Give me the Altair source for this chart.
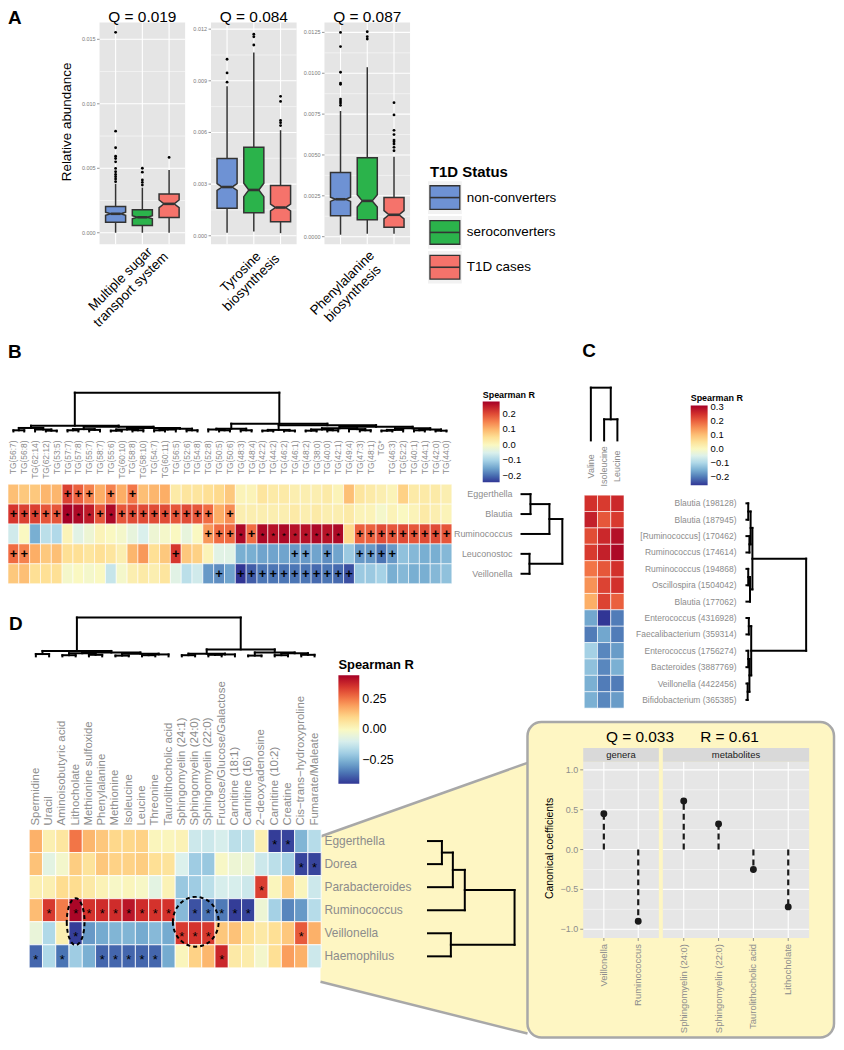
import altair as alt
import pandas as pd

FONT = "Liberation Sans"
LBL = "#8c8c8c"
TICK = "#7a7a7a"
YELLOW = "#fef6c3"
EDGE = "#a8a8a8"

# ======================= DATA =======================
# ---- Panel A: notched boxplots ----
A_pathways = ["Multiple sugar\ntransport system", "Tyrosine\nbiosynthesis", "Phenylalanine\nbiosynthesis"]
A_qvalues = ["Q = 0.019", "Q = 0.084", "Q = 0.087"]
A_status = ["non-converters", "seroconverters", "T1D cases"]
A_colors = ["#6e92d4", "#2bb34b", "#f5736b"]
# [lower whisker, Q1, median, Q3, upper whisker] per status
A_sugar_box = [[0.0, 0.00082, 0.00147, 0.00203, 0.0038],
               [0.0, 0.00056, 0.00120, 0.00178, 0.0035],
               [0.0, 0.00118, 0.00224, 0.00301, 0.00486]]
A_sugar_notch = [0.00012, 0.00012, 0.0003]
A_sugar_out = [[0.00396, 0.00417, 0.00435, 0.00452, 0.00473, 0.00499, 0.0055, 0.00576, 0.00594, 0.00659, 0.00788, 0.01554],
               [0.0037, 0.0039, 0.0041, 0.0047, 0.0050],
               [0.00584]]
A_tyr_box = [[0.00017, 0.0016, 0.00283, 0.00449, 0.00869],
             [0.00025, 0.00133, 0.00266, 0.00514, 0.01065],
             [0.00015, 0.00081, 0.00164, 0.00292, 0.00613]]
A_tyr_notch = [0.0002, 0.00039, 0.0002]
A_tyr_out = [[0.00892, 0.00946, 0.01025],
             [0.01108, 0.01156, 0.01171],
             [0.0064, 0.00657, 0.0067, 0.0078, 0.0081]]
A_phe_box = [[0.00012, 0.00128, 0.00229, 0.00393, 0.00769],
             [0.00018, 0.00104, 0.00219, 0.00483, 0.01037],
             [0.00018, 0.00058, 0.00134, 0.00239, 0.00489]]
A_phe_notch = [0.00013, 0.00037, 0.00025]
A_phe_out = [[0.00804, 0.00818, 0.0083, 0.00842, 0.00932, 0.0094, 0.01006, 0.01163, 0.0125],
             [0.01209, 0.01224, 0.01254],
             [0.00526, 0.00547, 0.00567, 0.00581, 0.00591, 0.00625, 0.00651, 0.00745, 0.0082]]
A_ticks = [[0.0, 0.005, 0.010, 0.015],
           [0.0, 0.003, 0.006, 0.009, 0.012],
           [0.0, 0.0025, 0.005, 0.0075, 0.01, 0.0125]]
A_ticklabels = [["0.000", "0.005", "0.010", "0.015"],
                ["0.000", "0.003", "0.006", "0.009", "0.012"],
                ["0.0000", "0.0025", "0.0050", "0.0075", "0.0100", "0.0125"]]
A_ydomains = [[-0.0009, 0.01631], [-0.0005, 0.01239], [-0.00047, 0.01311]]

# ---- Panel B: genera x triglycerides ----
B_cols = ["TG(56:7)", "TG(56:8)", "TG(62:14)", "TG(62:12)", "TG(53:5)", "TG(57:7)", "TG(57:8)", "TG(55:7)",
          "TG(58:7)", "TG(55:6)", "TG(60:10)", "TG(58:8)", "TG(58:10)", "TG(54:7)", "TG(60:11)", "TG(56:5)",
          "TG(52:6)", "TG(54:8)", "TG(52:8)", "TG(50:5)", "TG(50:6)", "TG(48:3)", "TG(48:4)", "TG(42:2)",
          "TG(44:2)", "TG(46:2)", "TG(46:1)", "TG(48:2)", "TG(38:0)", "TG(40:0)", "TG(42:1)", "TG(49:4)",
          "TG(47:3)", "TG(48:1)", "TG*", "TG(46:3)", "TG(52:2)", "TG(40:1)", "TG(44:1)", "TG(42:0)", "TG(44:0)"]
B_rows = ["Eggerthella", "Blautia", "Ruminococcus", "Leuconostoc", "Veillonella"]
B_eggerthella = [0.09, 0.08, 0.08, 0.10, 0.10, 0.21, 0.18, 0.15, 0.11, 0.15, 0.11, 0.16, 0.09, 0.10, 0.11, 0.03, 0.04, 0.04,
                 0.05, 0.06, 0.08, 0.01, 0.01, 0.04, 0.03, 0.03, 0.02, 0.02, 0.02, 0.03, 0.01, 0.09, 0.04, 0.03, 0.02,
                 0.01, 0.07, 0.03, 0.03, 0.03, 0.02]
B_blautia = [0.22, 0.21, 0.21, 0.19, 0.19, 0.28, 0.27, 0.25, 0.19, 0.27, 0.19, 0.20, 0.20, 0.20, 0.20, 0.19, 0.20, 0.19,
             0.17, 0.11, 0.14, 0.02, 0.02, 0.02, 0.02, 0.02, 0.03, 0.02, 0.03, 0.02, 0.02, 0.03, 0.01, 0.01, -0.01,
             0.01, 0.0, 0.01, 0.03, 0.02, 0.01]
B_ruminococcus = [-0.06, 0.0, -0.14, -0.08, -0.09, 0.01, -0.04, -0.02, 0.01, 0.0, -0.01, -0.03, -0.05, -0.02, -0.01, 0.0,
                  -0.03, 0.0, 0.13, 0.17, 0.17, 0.27, 0.17, 0.27, 0.26, 0.27, 0.26, 0.26, 0.27, 0.26, 0.27, 0.06, 0.18,
                  0.18, 0.20, 0.19, 0.20, 0.19, 0.20, 0.20, 0.19]
B_leuconostoc = [0.17, 0.15, 0.11, 0.08, 0.09, 0.05, 0.05, 0.04, 0.05, 0.04, 0.02, 0.10, 0.13, 0.05, 0.08, 0.22, 0.08,
                 0.07, 0.01, -0.04, -0.04, -0.14, -0.14, -0.15, -0.15, -0.15, -0.16, -0.16, -0.15, -0.17, -0.15, -0.11,
                 -0.16, -0.16, -0.19, -0.16, -0.12, -0.13, -0.14, -0.14, -0.13]
B_veillonella = [0.08, 0.09, 0.05, 0.05, 0.05, -0.01, 0.0, -0.01, 0.0, -0.07, -0.01, 0.02, 0.03, 0.02, 0.04, -0.04, -0.08,
                 -0.06, -0.16, -0.17, -0.15, -0.24, -0.21, -0.19, -0.19, -0.19, -0.19, -0.19, -0.20, -0.19, -0.20, -0.22,
                 -0.11, -0.11, -0.10, -0.14, -0.13, -0.14, -0.14, -0.13, -0.12]
B_plus = [[5, 6, 7, 9, 11],
          [0, 1, 2, 3, 4, 8, 10, 11, 12, 13, 14, 15, 16, 17, 18, 20],
          [18, 19, 20, 22, 32, 33, 34, 35, 36, 37, 38, 39, 40],
          [0, 1, 15, 26, 27, 29, 32, 33, 34, 35],
          [19, 21, 22, 23, 24, 25, 26, 27, 28, 29, 30, 31]]
B_star = [[], [5, 6, 7, 9], [21, 23, 24, 25, 26, 27, 28, 29, 30], [], []]
B_legend_ticks = [-0.2, -0.1, 0.0, 0.1, 0.2]
# dendrograms: (left, right, merge height); ints are leaf indices
B_coltree = ((((0, 1, 0.03), (2, (3, 4, 0.02), 0.05), 0.09),
              (((5, 6, 0.03), (7, 8, 0.04), 0.06),
               (((9, 10, 0.02), (11, 12, 0.03), 0.05), (((13, 14, 0.03), 15, 0.05), (16, 17, 0.03), 0.07), 0.09),
               0.12), 0.15),
             (((18, (19, 20, 0.03), 0.05), (21, 22, 0.03), 0.07),
              (((23, 24, 0.02), (25, 26, 0.02), 0.04),
               ((((27, 28, 0.02), (29, 30, 0.03), 0.05), (31, (32, 33, 0.03), 0.06), 0.08),
                (((34, 35, 0.02), 36, 0.04), ((37, 38, 0.03), (39, 40, 0.02), 0.05), 0.08), 0.12), 0.16), 0.20),
             1.0)
B_rowtree = (((0, 1, 9), 2, 28), (3, 4, 8), 41)

# ---- Panel C: OTUs x branched-chain amino acids ----
C_cols = ["Valine", "Isoleucine", "Leucine"]
C_rows = ["Blautia (198128)", "Blautia (187945)", "[Ruminococcus] (170462)", "Ruminococcus (174614)",
          "Ruminococcus (194868)", "Oscillospira (1504042)", "Blautia (177062)", "Enterococcus (4316928)",
          "Faecalibacterium (359314)", "Enterococcus (1756274)", "Bacteroides (3887769)", "Veillonella (4422456)",
          "Bifidobacterium (365385)"]
C_valine = [0.25, 0.27, 0.22, 0.24, 0.18, 0.15, 0.12, -0.16, -0.20, -0.11, -0.13, -0.15, -0.15]
C_isoleucine = [0.24, 0.21, 0.26, 0.27, 0.21, 0.23, 0.23, -0.26, -0.16, -0.19, -0.19, -0.20, -0.19]
C_leucine = [0.26, 0.24, 0.29, 0.30, 0.25, 0.25, 0.20, -0.20, -0.20, -0.17, -0.15, -0.20, -0.17]
C_legend_ticks = [-0.2, -0.1, 0.0, 0.1, 0.2, 0.3]
C_coltree = (0, (1, 2, 0.4), 1.0)
C_rowtree = ((((0, 1, 0.03), (2, 3, 0.05), 0.07), ((4, 5, 0.03), 6, 0.06), 0.10),
             ((7, 8, 0.04), ((9, 10, 0.03), (11, 12, 0.02), 0.05), 0.08), 1.0)

# ---- Panel D: genera x metabolites ----
D_cols = ["Spermidine", "Uracil", "Aminoisobutyric acid", "Lithocholate", "Methionine sulfoxide", "Phenylalanine",
          "Methionine", "Isoleucine", "Leucine", "Threonine", "Taurolithocholic acid", "Sphingomyelin (24:1)",
          "Sphingomyelin (24:0)", "Sphingomyelin (22:0)", "Fructose/Glucose/Galactose", "Carnitine (18:1)",
          "Carnitine (16)", "2\u2212deoxyadenosine", "Carnitine (10:2)", "Creatine",
          "Cis\u2212trans\u2212hydroxyproline", "Fumarate/Maleate"]
D_rows = ["Eggerthella", "Dorea", "Parabacteroides", "Ruminococcus", "Veillonella", "Haemophilus"]
D_eggerthella = [0.17, 0.03, 0.06, 0.26, 0.16, 0.13, 0.10, 0.10, 0.11, 0.01, 0.01, 0.02, -0.12, -0.12, -0.10, -0.15,
                 -0.14, 0.03, -0.44, -0.43, -0.25, -0.16]
D_dorea = [0.14, -0.07, -0.02, 0.12, 0.07, 0.13, 0.11, 0.11, 0.12, 0.08, 0.07, -0.09, -0.20, -0.21, -0.01, -0.04,
           -0.04, -0.12, -0.15, -0.19, -0.43, -0.43]
D_parabacteroides = [0.03, 0.03, 0.09, 0.09, 0.05, 0.02, -0.01, 0.01, -0.01, -0.07, 0.02, -0.21, -0.20, -0.15, -0.10,
                     -0.10, -0.12, 0.34, 0.01, 0.12, 0.01, -0.12]
D_ruminococcus = [0.15, 0.35, 0.25, 0.44, 0.36, 0.37, 0.37, 0.41, 0.37, 0.36, 0.36, -0.24, -0.41, -0.36, -0.35, -0.44,
                  -0.43, -0.04, -0.19, -0.33, -0.30, -0.16]
D_veillonella = [-0.05, -0.17, 0.03, -0.44, -0.30, -0.27, -0.25, -0.25, -0.27, -0.24, -0.27, 0.35, 0.36, 0.35, 0.13,
                 0.14, 0.08, 0.05, 0.08, 0.13, 0.30, 0.17]
D_haemophilus = [-0.38, -0.17, -0.36, -0.20, -0.26, -0.38, -0.38, -0.38, -0.38, -0.38, -0.27, 0.01, 0.11, 0.16, 0.38,
                 0.05, 0.04, -0.02, 0.08, 0.20, 0.17, -0.12]
D_star = [[18, 19], [20, 21], [17], [1, 3, 4, 5, 6, 7, 8, 9, 10, 12, 13, 14, 15, 16], [3, 11, 12, 13, 20],
          [0, 2, 5, 6, 7, 8, 9, 14]]
D_legend_ticks = [-0.25, 0.0, 0.25]
D_coltree = (((0, 1, 0.06), (((2, 3, 0.03), (4, 5, 0.04), 0.08), ((6, 7, 0.02), ((8, 9, 0.03), 10, 0.05), 0.07), 0.10), 0.14),
             (((11, 12, 0.03), ((13, 14, 0.04), 15, 0.05), 0.07), ((16, 17, 0.02), ((18, 19, 0.03), (20, 21, 0.04), 0.08), 0.10), 0.18),
             1.0)
D_rowtree = ((((0, 1, 14), 2, 25), 3, 37), (4, 5, 23), 87)
# highlighted pairs (column centre, row boundary) circled with dashed ellipses
D_circled = [(3.5, 2.0), (12.55, 2.0)]

# ---- Inset: canonical correlation ----
I_title_q = "Q = 0.033"
I_title_r = "R = 0.61"
I_genera = ["Veillonella", "Ruminococcus"]
I_genera_coef = [0.45, -0.90]
I_metab = ["Sphingomyelin (24:0)", "Sphingomyelin (22:0)", "Taurolithocholic acid", "Lithocholate"]
I_metab_coef = [0.61, 0.32, -0.25, -0.72]
I_ticks = [-1.0, -0.5, 0.0, 0.5, 1.0]
I_ticklabels = ["\u22121.0", "\u22120.5", "0.0", "0.5", "1.0"]

# ======================= LAYOUT (canvas pixels) =======================
A_panel_x = [[92, 178], [204, 290], [318, 404]]
A_panel_y = [235, 12]
A_xlabel_xy = [(113, 270), (234, 263), (336, 274)]
B_XR, B_YR = (0, 446), (576, 476)
C_XR, C_YR = (579, 619), (701, 487)
D_XR, D_YR = (21.3, 314.7), (962, 823)


def sc(dom, rng):
    return alt.Scale(domain=list(dom), range=list(rng), nice=False, zero=False)


def qx(f, dom, rng):
    return alt.X(f, type="quantitative", scale=sc(dom, rng), axis=None)


def qy(f, dom, rng):
    return alt.Y(f, type="quantitative", scale=sc(dom, rng), axis=None)


def raw(ch, f):
    return ch(f, type="quantitative", scale=None, axis=None)


def dendro(tree, leafpos):
    segs = []

    def rec(node):
        if isinstance(node, int):
            return leafpos(node), 0.0
        a, b, h = node
        pa, ha = rec(a)
        pb, hb = rec(b)
        segs.append((pa, pb, h, h))
        segs.append((pa, pa, ha, h))
        segs.append((pb, pb, hb, h))
        return (pa + pb) / 2.0, h

    rec(tree)
    return pd.DataFrame(segs, columns=["p1", "p2", "h1", "h2"])


def label(text, x, y, size=19, **kw):
    return alt.Chart(pd.DataFrame({"t": [text]})).mark_text(
        font=FONT, fontSize=size, fontWeight="bold", align="left", baseline="alphabetic", **kw
    ).encode(x=alt.value(x), y=alt.value(y), text="t:N")


layers = []

# ======================= PANEL A =======================
A_box = [A_sugar_box, A_tyr_box, A_phe_box]
A_notch = [A_sugar_notch, A_tyr_notch, A_phe_notch]
A_out = [A_sugar_out, A_tyr_out, A_phe_out]
HW = 0.375
layers.append(label("A", 0, 14))
layers.append(alt.Chart(pd.DataFrame({"t": ["Relative abundance"]})).mark_text(
    font=FONT, fontSize=13.5, angle=270, align="center", baseline="middle").encode(
    x=alt.value(59), y=alt.value(112), text="t:N"))
for p in range(3):
    XD, XR, YD, YR = (0.4, 3.6), A_panel_x[p], A_ydomains[p], A_panel_y

    def X(f):
        return qx(f, XD, XR)

    def Y(f):
        return qy(f, YD, YR)

    ticks = A_ticks[p]
    minors = [(a + b) / 2 for a, b in zip(ticks[:-1], ticks[1:])]
    layers.append(alt.Chart(pd.DataFrame({"x1": [XD[0]], "x2": [XD[1]], "y1": [YD[0]], "y2": [YD[1]]}))
                  .mark_rect(fill="#e5e5e5").encode(x=X("x1"), x2="x2", y=Y("y1"), y2="y2"))
    layers.append(alt.Chart(pd.DataFrame({"v": minors, "x1": XD[0], "x2": XD[1]}))
                  .mark_rule(color="white", strokeWidth=0.5).encode(x=X("x1"), x2="x2", y=Y("v")))
    layers.append(alt.Chart(pd.DataFrame({"v": ticks, "x1": XD[0], "x2": XD[1]}))
                  .mark_rule(color="white", strokeWidth=1.1).encode(x=X("x1"), x2="x2", y=Y("v")))
    layers.append(alt.Chart(pd.DataFrame({"pos": [1, 2, 3], "y1": YD[0], "y2": YD[1]}))
                  .mark_rule(color="white", strokeWidth=1.1).encode(x=X("pos"), y=Y("y1"), y2="y2"))
    poly, wh, med, out = [], [], [], []
    for i in range(3):
        lw, q1, md, q3, uw = A_box[p][i]
        n = A_notch[p][i]
        pos = i + 1
        for yv, f in [(q1, 1), (md - n, 1), (md, 0.5), (md + n, 1), (q3, 1)]:
            poly.append(dict(status=A_status[i], y=yv, xl=pos - HW * f, xr=pos + HW * f, fill=A_colors[i]))
        wh.append(dict(pos=pos, y1=q3, y2=uw))
        wh.append(dict(pos=pos, y1=q1, y2=lw))
        med.append(dict(x1=pos - HW / 2, x2=pos + HW / 2, y=md))
        for v in A_out[p][i]:
            out.append(dict(pos=pos, v=v))
    layers.append(alt.Chart(pd.DataFrame(wh)).mark_rule(color="#333333", strokeWidth=1.5)
                  .encode(x=X("pos"), y=Y("y1"), y2="y2"))
    layers.append(alt.Chart(pd.DataFrame(poly)).mark_area(orient="horizontal", stroke="#333333", strokeWidth=1.5,
                                                          opacity=1)
                  .encode(y=Y("y"), x=X("xl"), x2="xr", color=alt.Color("fill:N", scale=None), detail="status:N"))
    layers.append(alt.Chart(pd.DataFrame(med)).mark_rule(color="#333333", strokeWidth=2.6)
                  .encode(x=X("x1"), x2="x2", y=Y("y")))
    layers.append(alt.Chart(pd.DataFrame(out)).mark_circle(size=8, color="black", opacity=1)
                  .encode(x=X("pos"), y=Y("v")))
    layers.append(alt.Chart(pd.DataFrame({"v": ticks, "lab": A_ticklabels[p]}))
                  .mark_text(font=FONT, fontSize=5.5, align="right", baseline="middle", color=TICK)
                  .encode(x=alt.value(XR[0] - 4), y=Y("v"), text="lab:N"))
    layers.append(alt.Chart(pd.DataFrame({"v": ticks}))
                  .mark_rule(color=TICK, strokeWidth=0.8)
                  .encode(x=alt.value(XR[0] - 2.5), x2=alt.value(XR[0]), y=Y("v")))
    layers.append(alt.Chart(pd.DataFrame({"pos": [2.0], "t": [A_qvalues[p]]}))
                  .mark_text(font=FONT, fontSize=15.5, baseline="alphabetic")
                  .encode(x=X("pos"), y=alt.value(12), text="t:N"))
    layers.append(alt.Chart(pd.DataFrame({"t": [A_pathways[p]]}))
                  .mark_text(font=FONT, fontSize=13.5, angle=315, align="center", baseline="middle",
                             lineBreak="\n", lineHeight=15)
                  .encode(x=alt.value(A_xlabel_xy[p][0]), y=alt.value(A_xlabel_xy[p][1]), text="t:N"))

# legend of panel A
LG_YD, LG_YR = (0, 2), (188, 258)
lg = pd.DataFrame({"i": [0, 1, 2], "status": A_status, "fill": A_colors})
lg["b0"] = lg["i"] - 0.47
lg["b1"] = lg["i"] + 0.47
lg["k0"] = lg["i"] - 0.34
lg["k1"] = lg["i"] + 0.34
layers.append(alt.Chart(pd.DataFrame({"t": ["T1D Status"]})).mark_text(
    font=FONT, fontSize=15, fontWeight="bold", align="left", baseline="middle").encode(
    x=alt.value(424), y=alt.value(162), text="t:N"))
layers.append(alt.Chart(lg).mark_rect(fill="#f2f2f2").encode(
    x=alt.value(422), x2=alt.value(456), y=qy("b0", LG_YD, LG_YR), y2="b1"))
layers.append(alt.Chart(lg).mark_rect(stroke="#333333", strokeWidth=1.3).encode(
    x=alt.value(424), x2=alt.value(454), y=qy("k0", LG_YD, LG_YR), y2="k1",
    color=alt.Color("fill:N", scale=None)))
layers.append(alt.Chart(lg).mark_rule(color="#333333", strokeWidth=1.6).encode(
    x=alt.value(424), x2=alt.value(454), y=qy("i", LG_YD, LG_YR)))
layers.append(alt.Chart(lg).mark_text(font=FONT, fontSize=13.5, align="left", baseline="middle").encode(
    x=alt.value(461), y=qy("i", LG_YD, LG_YR), text="status:N"))


# ======================= HEATMAP helpers =======================
def heatmap(rows, cols, mats, XR, YR, cdom, legend, stroke_w=0.6):
    nr, nc = len(rows), len(cols)
    recs = []
    for r in range(nr):
        for c in range(nc):
            recs.append(dict(row=rows[r], col=cols[c], R=mats[r][c], x1=c, x2=c + 1,
                             y1=nr - 1 - r, y2=nr - r))
    return alt.Chart(pd.DataFrame(recs)).mark_rect(stroke="white", strokeWidth=stroke_w).encode(
        x=qx("x1", (0, nc), XR), x2="x2", y=qy("y1", (0, nr), YR), y2="y2",
        color=alt.Color("R:Q", scale=alt.Scale(scheme="redyellowblue", reverse=True, domain=cdom, domainMid=0),
                        legend=legend))


def gradient_legend(x, y, values, fmt, length, thick, tsize, lsize, tpad):
    return alt.Legend(orient="none", legendX=x, legendY=y, title="Spearman R", titleFont=FONT, titleFontSize=tsize,
                      titleFontWeight="bold", titleColor="black", titlePadding=tpad, labelFont=FONT,
                      labelFontSize=lsize, labelColor="black", gradientLength=length, gradientThickness=thick,
                      values=values, format=fmt, direction="vertical", gradientStrokeWidth=0, labelOffset=3,
                      labelOverlap=False, padding=0)


def marks(rows, cols, idx_lists, sym, XR, YR, size, dy, weight="normal"):
    nr, nc = len(rows), len(cols)
    recs = [dict(xc=c + 0.5, yc=nr - r - 0.5) for r in range(nr) for c in idx_lists[r]]
    return alt.Chart(pd.DataFrame(recs, columns=["xc", "yc"])).mark_text(
        font=FONT, fontSize=size, dy=dy, fontWeight=weight, color="black", baseline="middle", text=sym).encode(
        x=qx("xc", (0, nc), XR), y=qy("yc", (0, nr), YR))


def col_labels(cols, XR, y, size, align):
    nc = len(cols)
    return alt.Chart(pd.DataFrame({"t": cols, "xc": [c + 0.5 for c in range(nc)]})).mark_text(
        font=FONT, fontSize=size, angle=270, align=align, baseline="middle", color=LBL).encode(
        x=qx("xc", (0, nc), XR), y=alt.value(y), text="t:N")


def row_labels(rows, YR, x, size, align):
    nr = len(rows)
    return alt.Chart(pd.DataFrame({"t": rows, "yc": [nr - r - 0.5 for r in range(nr)]})).mark_text(
        font=FONT, fontSize=size, align=align, baseline="middle", color=LBL).encode(
        x=alt.value(x), y=qy("yc", (0, nr), YR), text="t:N")


def col_dendro(tree, nc, XR, hdom, hrange):
    df = dendro(tree, lambda i: i + 0.5)
    return alt.Chart(df).mark_rule(color="black", strokeWidth=2, strokeCap="square").encode(
        x=qx("p1", (0, nc), XR), x2="p2", y=qy("h1", hdom, hrange), y2="h2")


def row_dendro(tree, nr, YR, hdom, hrange):
    df = dendro(tree, lambda r: nr - r - 0.5)
    return alt.Chart(df).mark_rule(color="black", strokeWidth=2, strokeCap="square").encode(
        y=qy("p1", (0, nr), YR), y2="p2", x=qx("h1", hdom, hrange), x2="h2")


# ======================= PANEL B =======================
B_R = [B_eggerthella, B_blautia, B_ruminococcus, B_leuconostoc, B_veillonella]
layers.append(label("B", 0, 349))
layers.append(heatmap(B_rows, B_cols, B_R, B_XR, B_YR, [-0.24, 0.28],
                      gradient_legend(477, 382, B_legend_ticks, ".1f", 81, 17, 9, 9.5, 2)))
layers.append(marks(B_rows, B_cols, B_plus, "+", B_XR, B_YR, 13, 0, "bold"))
layers.append(marks(B_rows, B_cols, B_star, "*", B_XR, B_YR, 10, 2))
layers.append(col_labels(B_cols, B_XR, 432, 8.5, "right"))
layers.append(row_labels(B_rows, B_YR, 507, 9, "right"))
layers.append(col_dendro(B_coltree, len(B_cols), B_XR, (0, 1), (423, 384)))
layers.append(row_dendro(B_rowtree, len(B_rows), B_YR, (0, 41), (516, 557)))

# ======================= PANEL C =======================
C_R = [[C_valine[r], C_isoleucine[r], C_leucine[r]] for r in range(len(C_rows))]
layers.append(label("C", 577, 348))
layers.append(heatmap(C_rows, C_cols, C_R, C_XR, C_YR, [-0.26, 0.31],
                      gradient_legend(686, 385, C_legend_ticks, ".1f", 80, 17, 9, 9.5, 3)))
layers.append(col_labels(C_cols, C_XR, 458, 9, "center"))
layers.append(row_labels(C_rows, C_YR, 732, 8.5, "right"))
layers.append(col_dendro(C_coltree, len(C_cols), C_XR, (0, 1), (432, 379)))
layers.append(row_dendro(C_rowtree, len(C_rows), C_YR, (0, 1), (742, 802)))

# ======================= PANEL D =======================
D_R = [D_eggerthella, D_dorea, D_parabacteroides, D_ruminococcus, D_veillonella, D_haemophilus]
# connector wedge to the inset
wedge = pd.DataFrame({"x": [314, 522], "y": [830, 756], "y2": [976, 1028]})
layers.append(alt.Chart(wedge).mark_area(fill=YELLOW, opacity=1).encode(
    x=raw(alt.X, "x"), y=raw(alt.Y, "y"), y2="y2"))
edges = pd.DataFrame({"x": [314, 314], "x2": [522, 522], "y": [830, 976], "y2": [756, 1028]})
layers.append(alt.Chart(edges).mark_rule(color=EDGE, strokeWidth=2.5).encode(
    x=raw(alt.X, "x"), x2="x2", y=raw(alt.Y, "y"), y2="y2"))
layers.append(label("D", 1, 622))
layers.append(heatmap(D_rows, D_cols, D_R, D_XR, D_YR, [-0.45, 0.45],
                      gradient_legend(332, 652, D_legend_ticks, ".2f", 109, 21, 13, 12.5, 3), 0.8))
layers.append(marks(D_rows, D_cols, D_star, "*", D_XR, D_YR, 13, 4))
layers.append(col_labels(D_cols, D_XR, 819, 11.5, "left"))
layers.append(row_labels(D_rows, D_YR, 318, 12, "left"))
layers.append(col_dendro(D_coltree, len(D_cols), D_XR, (0, 1), (649, 610)))
layers.append(row_dendro(D_rowtree, len(D_rows), D_YR, (0, 87), (422, 509)))
ell_shapes = ["M -0.38 0 A 0.38 1 0 1 0 0.38 0 A 0.38 1 0 1 0 -0.38 0 Z",
              "M -0.92 0 A 0.92 1 0 1 0 0.92 0 A 0.92 1 0 1 0 -0.92 0 Z"]
ell_sizes = [2209, 2500]
for (cx, cy), shp, sz in zip(D_circled, ell_shapes, ell_sizes):
    layers.append(alt.Chart(pd.DataFrame({"cx": [cx], "cy": [cy]})).mark_point(
        shape=shp, size=sz, filled=False, stroke="black", strokeWidth=2, strokeDash=[4, 3], opacity=1).encode(
        x=qx("cx", (0, len(D_cols)), D_XR), y=qy("cy", (0, len(D_rows)), D_YR)))

# ======================= INSET =======================
box = pd.DataFrame({"x": [522], "x2": [830], "y": [715], "y2": [1032]})
layers.append(alt.Chart(box).mark_rect(fill=YELLOW, stroke=EDGE, strokeWidth=2.5, cornerRadius=14).encode(
    x=raw(alt.X, "x"), x2="x2", y=raw(alt.Y, "y"), y2="y2"))
I_YD, I_YR = (-1.11, 1.1), (932, 755)
inset_panels = [("genera", I_genera, I_genera_coef, (578, 654)), ("metabolites", I_metab, I_metab_coef, (658, 805))]
for name, cats, coefs, XR in inset_panels:
    n = len(cats)
    XD = (0.4, n + 0.6)

    def X(f):
        return qx(f, XD, XR)

    def Y(f):
        return qy(f, I_YD, I_YR)

    minors = [(a + b) / 2 for a, b in zip(I_ticks[:-1], I_ticks[1:])]
    pos = list(range(1, n + 1))
    layers.append(alt.Chart(pd.DataFrame({"x1": [XD[0]], "x2": [XD[1]], "y1": [I_YD[0]], "y2": [I_YD[1]]}))
                  .mark_rect(fill="#e6e6e6").encode(x=X("x1"), x2="x2", y=Y("y1"), y2="y2"))
    layers.append(alt.Chart(pd.DataFrame({"v": minors, "x1": XD[0], "x2": XD[1]}))
                  .mark_rule(color="white", strokeWidth=0.5).encode(x=X("x1"), x2="x2", y=Y("v")))
    layers.append(alt.Chart(pd.DataFrame({"v": I_ticks, "x1": XD[0], "x2": XD[1]}))
                  .mark_rule(color="white", strokeWidth=1.1).encode(x=X("x1"), x2="x2", y=Y("v")))
    layers.append(alt.Chart(pd.DataFrame({"pos": pos, "y1": I_YD[0], "y2": I_YD[1]}))
                  .mark_rule(color="white", strokeWidth=1.1).encode(x=X("pos"), y=Y("y1"), y2="y2"))
    layers.append(alt.Chart(pd.DataFrame({"x1": [XD[0]], "x2": [XD[1]]}))
                  .mark_rect(fill="#d9d9d9").encode(x=X("x1"), x2="x2", y=alt.value(741), y2=alt.value(755)))
    layers.append(alt.Chart(pd.DataFrame({"c": [(XD[0] + XD[1]) / 2], "t": [name]}))
                  .mark_text(font=FONT, fontSize=9.5, baseline="middle", color="#1a1a1a")
                  .encode(x=X("c"), y=alt.value(748.5), text="t:N"))
    df = pd.DataFrame({"pos": pos, "coef": coefs, "zero": 0.0, "name": cats})
    layers.append(alt.Chart(df).mark_rule(color="#1a1a1a", strokeWidth=2.2, strokeDash=[6, 4])
                  .encode(x=X("pos"), y=Y("zero"), y2="coef"))
    layers.append(alt.Chart(df).mark_circle(size=48, color="#1a1a1a", opacity=1)
                  .encode(x=X("pos"), y=Y("coef")))
    layers.append(alt.Chart(df).mark_rule(color=TICK, strokeWidth=0.8)
                  .encode(x=X("pos"), y=alt.value(932), y2=alt.value(935)))
    layers.append(alt.Chart(df).mark_text(font=FONT, fontSize=9.5, angle=270, align="right", baseline="middle",
                                          color=LBL)
                  .encode(x=X("pos"), y=alt.value(938), text="name:N"))
layers.append(alt.Chart(pd.DataFrame({"v": I_ticks, "lab": I_ticklabels}))
              .mark_text(font=FONT, fontSize=9, align="right", baseline="middle", color=LBL)
              .encode(x=alt.value(573), y=qy("v", I_YD, I_YR), text="lab:N"))
layers.append(alt.Chart(pd.DataFrame({"v": I_ticks}))
              .mark_rule(color=TICK, strokeWidth=0.8)
              .encode(x=alt.value(575), x2=alt.value(578), y=qy("v", I_YD, I_YR)))
layers.append(alt.Chart(pd.DataFrame({"t": ["Canonical coefficients"]})).mark_text(
    font=FONT, fontSize=10.5, angle=270, align="center", baseline="middle").encode(
    x=alt.value(545), y=alt.value(842), text="t:N"))
layers.append(alt.Chart(pd.DataFrame({"t": [I_title_q, I_title_r], "x": [635, 725]})).mark_text(
    font=FONT, fontSize=15.5, align="center", baseline="alphabetic").encode(
    x=raw(alt.X, "x"), y=alt.value(735), text="t:N"))

chart = alt.layer(*layers).resolve_scale(
    x="independent", y="independent", color="independent"
).properties(
    width=832, height=1036, padding=0, autosize=alt.AutoSizeParams(type="none")
).configure_view(stroke=None)

chart.save("out.html", embed_options={"renderer": "svg", "actions": False})
